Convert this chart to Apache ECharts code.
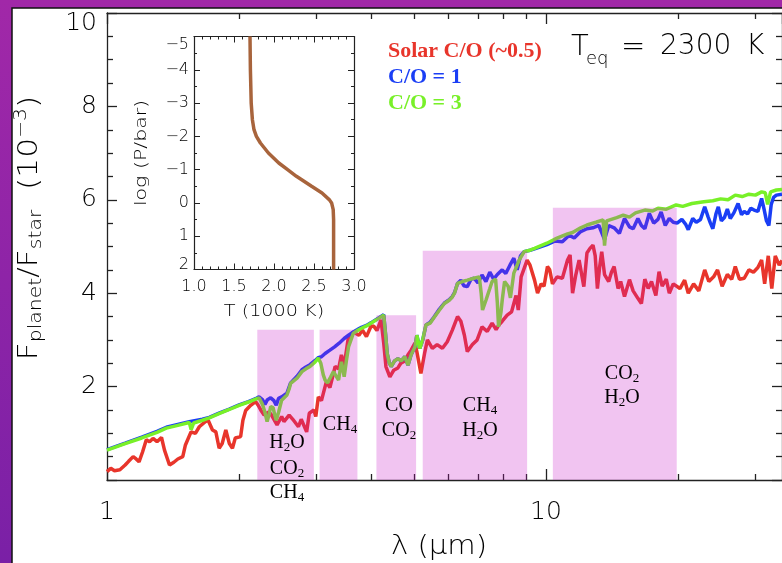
<!DOCTYPE html>
<html><head><meta charset="utf-8">
<script src="https://cdn.jsdelivr.net/npm/echarts@6/dist/echarts.min.js"></script>
<style>html,body{margin:0;padding:0;background:#fff}#c{width:782px;height:563px}</style>
</head><body><div id="c"></div>
<script>
// ---------- data ----------
const solarCO = [[1.00,0.18],[1.02,0.25],[1.04,0.20],[1.07,0.22],[1.10,0.32],[1.12,0.40],[1.147,0.50],[1.165,0.45],[1.183,0.39],[1.205,0.60],[1.229,0.86],[1.25,0.82],[1.273,0.89],[1.30,0.82],[1.331,0.91],[1.352,0.64],[1.388,0.32],[1.42,0.38],[1.45,0.45],[1.488,0.50],[1.509,0.75],[1.554,1.03],[1.59,1.00],[1.623,1.14],[1.675,1.25],[1.70,1.28],[1.739,1.07],[1.77,1.03],[1.801,0.68],[1.83,0.78],[1.865,1.07],[1.90,0.78],[1.931,0.68],[1.96,0.90],[2.016,0.93],[2.04,1.28],[2.07,1.49],[2.125,1.60],[2.18,1.68],[2.21,1.60],[2.24,1.50],[2.28,1.39],[2.33,1.45],[2.36,1.42],[2.44,1.18],[2.50,1.36],[2.53,1.25],[2.60,1.39],[2.65,1.30],[2.73,1.14],[2.77,1.30],[2.85,1.03],[2.89,1.43],[2.96,1.50],[2.99,1.36],[3.03,1.78],[3.08,1.70],[3.16,2.10],[3.22,1.98],[3.31,2.43],[3.37,2.38],[3.42,2.68],[3.47,2.45],[3.55,3.07],[3.64,3.17],[3.75,3.10],[3.82,3.21],[3.90,3.07],[3.99,3.28],[4.05,3.30],[4.12,3.20],[4.21,3.43],[4.27,2.93],[4.32,2.43],[4.41,2.21],[4.50,2.35],[4.60,2.40],[4.67,2.50],[4.77,2.55],[4.85,2.68],[4.93,2.78],[5.03,2.93],[5.08,2.75],[5.19,2.28],[5.29,2.71],[5.37,3.00],[5.51,2.82],[5.65,2.90],[5.81,2.82],[5.96,2.96],[6.12,3.21],[6.29,3.50],[6.40,3.40],[6.52,3.10],[6.62,2.75],[6.80,2.90],[6.97,3.00],[7.15,3.28],[7.35,3.18],[7.54,3.36],[7.70,3.22],[7.81,3.32],[7.95,3.40],[8.16,3.53],[8.35,3.60],[8.45,3.78],[8.55,3.95],[8.65,3.64],[8.78,4.35],[9.06,4.71],[9.20,4.60],[9.42,4.28],[9.57,4.00],[9.75,4.20],[9.90,4.15],[10.08,4.57],[10.20,4.50],[10.35,4.20],[10.60,4.35],[10.90,4.32],[11.20,4.71],[11.35,4.82],[11.50,4.00],[11.70,4.40],[11.90,4.71],[12.20,4.14],[12.40,4.86],[12.60,4.96],[12.80,5.03],[12.95,4.80],[13.10,4.10],[13.25,4.55],[13.40,4.89],[13.60,4.40],[13.90,4.25],[14.10,4.45],[14.30,4.57],[14.60,4.10],[14.80,4.25],[15.10,3.93],[15.50,4.29],[15.80,4.05],[16.20,3.89],[16.50,3.78],[16.80,4.30],[17.10,4.10],[17.40,4.25],[17.80,3.95],[18.10,4.46],[18.40,4.15],[18.80,4.30],[19.10,4.00],[19.50,4.20],[20.20,4.10],[20.70,4.28],[21.10,4.00],[21.70,4.20],[22.30,4.05],[23.00,4.50],[23.50,4.25],[24.10,4.35],[24.60,4.50],[25.20,4.15],[25.90,4.40],[26.50,4.30],[27.00,4.57],[27.60,4.30],[28.30,4.32],[29.00,4.50],[29.70,4.45],[30.40,4.55],[31.00,4.71],[31.50,4.20],[32.10,4.80],[32.70,4.10],[33.30,4.80],[34.00,4.60],[34.50,4.70]];

const co1 = [[1.00,0.65],[1.10,0.79],[1.20,0.92],[1.30,1.04],[1.365,1.13],[1.45,1.19],[1.54,1.25],[1.65,1.30],[1.71,1.34],[1.80,1.43],[1.90,1.52],[2.00,1.61],[2.10,1.68],[2.18,1.74],[2.22,1.78],[2.26,1.72],[2.29,1.62],[2.32,1.72],[2.36,1.76],[2.40,1.70],[2.43,1.60],[2.46,1.75],[2.50,1.78],[2.57,1.86],[2.62,2.08],[2.71,2.22],[2.78,2.36],[2.84,2.42],[2.90,2.47],[2.98,2.56],[3.03,2.62],[3.08,2.64],[3.14,2.71],[3.22,2.78],[3.30,2.85],[3.38,2.93],[3.47,3.03],[3.55,3.10],[3.64,3.17],[3.72,3.22],[3.80,3.27],[3.90,3.31],[4.00,3.37],[4.14,3.46],[4.27,3.54],[4.31,3.14],[4.35,2.70],[4.40,2.50],[4.44,2.43],[4.52,2.55],[4.60,2.60],[4.68,2.55],[4.77,2.64],[4.85,2.46],[4.93,2.68],[5.03,2.85],[5.08,3.10],[5.11,3.12],[5.16,2.82],[5.24,3.00],[5.33,3.32],[5.45,3.38],[5.55,3.48],[5.60,3.52],[5.72,3.66],[5.87,3.79],[6.02,3.86],[6.12,3.93],[6.19,4.01],[6.29,4.21],[6.40,4.28],[6.50,4.16],[6.62,4.14],[6.75,4.30],[6.86,4.32],[7.00,4.22],[7.15,4.39],[7.30,4.25],[7.45,4.45],[7.60,4.30],[7.75,4.40],[7.95,4.50],[8.10,4.42],[8.28,4.60],[8.45,4.75],[8.60,4.50],[8.75,4.80],[8.92,4.89],[9.20,4.92],[9.42,4.95],[10.05,5.04],[10.5,5.12],[10.9,5.10],[11.3,5.24],[11.6,5.18],[12.0,5.32],[12.4,5.38],[12.8,5.40],[13.2,5.45],[13.6,5.15],[13.9,5.45],[14.3,5.40],[14.7,5.28],[15.1,5.60],[15.5,5.42],[15.8,5.38],[16.2,5.60],[16.5,5.45],[16.8,5.38],[17.2,5.71],[17.6,5.50],[18.0,5.58],[18.3,5.74],[18.7,5.45],[19.1,5.60],[19.5,5.52],[19.9,5.50],[20.4,5.58],[20.8,5.48],[21.1,5.36],[21.6,5.60],[22.0,5.52],[22.5,5.58],[23.0,5.85],[23.4,5.64],[23.7,5.50],[24.0,5.38],[24.4,5.70],[24.7,5.85],[25.1,5.55],[25.5,5.62],[25.9,5.80],[26.3,5.60],[26.8,5.72],[27.4,5.92],[27.9,5.68],[28.3,5.75],[28.8,5.70],[29.3,5.82],[29.8,5.78],[30.4,5.75],[31.0,6.03],[31.4,5.80],[31.8,5.55],[32.2,5.45],[32.6,5.90],[33.0,6.05],[33.5,6.10],[34.5,6.12]];

const co3 = [[1.00,0.64],[1.10,0.78],[1.20,0.90],[1.30,1.02],[1.365,1.11],[1.45,1.17],[1.54,1.23],[1.555,1.08],[1.575,1.22],[1.65,1.28],[1.71,1.33],[1.80,1.42],[1.90,1.51],[2.00,1.60],[2.10,1.67],[2.18,1.73],[2.22,1.76],[2.26,1.62],[2.29,1.45],[2.316,1.25],[2.34,1.40],[2.36,1.57],[2.39,1.55],[2.41,1.40],[2.43,1.28],[2.46,1.45],[2.50,1.71],[2.57,1.82],[2.60,1.95],[2.62,2.07],[2.71,2.18],[2.78,2.32],[2.84,2.38],[2.90,2.43],[2.98,2.53],[3.03,2.61],[3.07,2.50],[3.11,2.25],[3.14,2.14],[3.18,2.08],[3.23,2.20],[3.28,2.32],[3.33,2.22],[3.37,2.14],[3.42,2.53],[3.45,2.35],[3.47,2.21],[3.51,2.55],[3.55,2.85],[3.64,3.14],[3.72,3.20],[3.80,3.25],[3.90,3.30],[4.00,3.36],[4.14,3.45],[4.27,3.53],[4.31,3.14],[4.35,2.70],[4.40,2.50],[4.44,2.43],[4.52,2.55],[4.60,2.60],[4.68,2.55],[4.77,2.64],[4.85,2.46],[4.93,2.68],[5.03,2.85],[5.08,3.10],[5.11,3.12],[5.16,2.82],[5.24,3.00],[5.33,3.32],[5.45,3.36],[5.55,3.47],[5.60,3.50],[5.72,3.64],[5.87,3.78],[6.02,3.85],[6.12,3.92],[6.19,4.00],[6.29,4.21],[6.45,4.25],[6.62,4.28],[6.85,4.32],[7.05,4.35],[7.12,4.00],[7.17,3.64],[7.30,3.85],[7.45,4.10],[7.54,4.25],[7.68,4.30],[7.75,3.80],[7.80,3.28],[7.90,3.60],[7.95,3.85],[8.05,4.25],[8.20,4.15],[8.30,3.90],[8.45,4.43],[8.69,4.71],[8.92,4.89],[9.20,4.92],[9.42,4.96],[10.05,5.07],[10.6,5.18],[11.2,5.27],[11.5,5.30],[12.0,5.40],[12.4,5.46],[13.0,5.52],[13.5,5.57],[13.6,5.02],[13.75,5.55],[14.5,5.62],[15.0,5.67],[15.5,5.63],[16.0,5.72],[16.8,5.78],[17.5,5.76],[18.0,5.82],[18.8,5.80],[19.8,5.89],[20.5,5.86],[21.5,5.92],[22.9,5.96],[24.0,5.98],[25.0,6.02],[26.0,6.00],[27.0,6.10],[28.0,6.07],[29.0,6.12],[30.0,6.10],[31.0,6.17],[31.6,6.15],[32.0,5.90],[32.5,6.17],[33.5,6.21],[34.5,6.22]];

// shaded absorption windows: [lambda start, lambda end, top of box]
const bandStart = [2.20, 3.05, 4.11, 5.24, 10.37];
const bandEnd   = [2.96, 3.72, 5.06, 9.06, 19.86];
const bandTop   = [3.22, 3.22, 3.53, 4.91, 5.83];

// inset T-P profile
const tpLogP = [-5,-4,-3,-2.5,-2.2,-2,-1.8,-1.5,-1.2,-1,-0.8,-0.5,-0.3,-0.1,0,0.2,0.5,1,2];
const tpT    = [1.70,1.705,1.715,1.73,1.75,1.78,1.83,1.93,2.06,2.17,2.28,2.47,2.60,2.69,2.72,2.74,2.745,2.745,2.745];

const xMajor = [1, 10];
const xMinor = [2,3,4,5,6,7,8,9,20,30];
const names = ['Solar C/O (~0.5)', 'C/O = 1', 'C/O = 3'];

// ---------- style ----------
const AX = '#222';
const TXT = '#000';
const SANS = 'DejaVu Sans, Liberation Sans, sans-serif';
const FW = 300;
const SERIF = 'Liberation Serif, Times New Roman, serif';
const XMAX = 34.5;
const COL = ['#e8352b', '#1a3ef5', '#78f028'];

const chart = echarts.init(document.getElementById('c'));
const mainW = 442 * Math.log10(XMAX);

function xAx(pos, type, extra) {
  const base = {
    gridIndex:0, position:pos, type:type,
    min: type==='log' ? 1 : 0, max: type==='log' ? XMAX : Math.log10(XMAX),
    axisLine: type==='log' ? {show:true, onZero:false, lineStyle:{color:AX,width:1.3}} : {show:false, onZero:false},
    splitLine:{show:false},
    axisLabel:{show:false},
  };
  return Object.assign(base, extra);
}

const tpData = tpLogP.map((p,i)=>[tpT[i], p]);
const sub = (s)=>s.replace(/([A-Z])(\d)/g, '$1{s|$2}').replace(/(^|\})([A-Za-z]+)(?=\{|$)/g, '$1{n|$2}');

const bandLabels = [
  [287, 443, 'H2O'], [287, 469, 'CO2'], [287, 493, 'CH4'],
  [340, 425, 'CH4'],
  [399, 406, 'CO'], [399, 431, 'CO2'],
  [480, 406, 'CH4'], [480, 431, 'H2O'],
  [622, 374, 'CO2'], [622, 398, 'H2O']
];
const labRich = {n:{fontSize:20, fontFamily:SERIF, color:'#111'}, s:{fontSize:13, fontFamily:SERIF, color:'#111', padding:[10,0,0,0]}};

function txt(x, y, text, size, extra) {
  return Object.assign({type:'text', z:50, x:x, y:y, style:{text:text, fontSize:size, fontFamily:SANS, fontWeight:FW, fill:TXT, align:'center', verticalAlign:'middle'}}, extra||{});
}
function ltxt(x, y, text, size) {
  return {type:'text', z:50, x:x, y:y, style:{text:text, fontSize:size, fontFamily:SANS, fontWeight:FW, fill:TXT, align:'left', verticalAlign:'middle'}};
}

const graphics = [
  {type:'rect', z:-10, shape:{x:12, y:8, width:800, height:600}, style:{fill:'#fff', stroke:'#111', lineWidth:1.5}},
  {type:'text', z:50, x:30, y:228, rotation:Math.PI/2, scaleX:1.2, style:{
    text:'{m|F}{s|planet}{m|/F}{s|star}{m|  (10}{p|−3}{m|)}', align:'center', verticalAlign:'middle',
    rich:{m:{fontSize:26, fontFamily:SANS, fontWeight:FW, color:TXT}, s:{fontSize:17, fontFamily:SANS, fontWeight:FW, color:TXT, padding:[14,0,0,0]}, p:{fontSize:17, fontFamily:SANS, fontWeight:FW, color:TXT, padding:[0,0,16,0]}}}},
  txt(439, 547, 'λ (μm)', 26, {scaleX:1.12}),
  txt(274, 312, 'T (1000 K)', 16, {scaleX:1.2}),
  txt(142, 153, 'log (P/bar)', 16, {rotation:Math.PI/2, scaleX:1.28}),
  ltxt(571, 47, 'T', 29),
  ltxt(586, 59, 'eq', 18),
  ltxt(621, 47, '=', 29),
  ltxt(660, 47, '2300', 28),
  ltxt(746, 47, 'K', 28),
];
bandLabels.forEach(b=>graphics.push({type:'text', z:60, x:b[0], y:b[1], style:{text:sub(b[2]), rich:labRich, align:'center', verticalAlign:'middle'}}));

const lab = (size, extra) => Object.assign({fontSize:size, fontFamily:SANS, fontWeight:FW, color:TXT}, extra||{});

const option = {
  animation:false,
  backgroundColor: new echarts.graphic.LinearGradient(0,0,0,1,[{offset:0,color:'#a128a8'},{offset:1,color:'#7a20a6'}]),
  legend:{orient:'vertical', left:378, top:35, icon:'none', itemWidth:0, itemHeight:0, itemGap:4, selectedMode:false,
    textStyle:{fontFamily:SERIF, fontWeight:'bold', fontSize:22},
    data: names.map((n,i)=>({name:n, textStyle:{color:COL[i]}}))},
  grid:[
    {left:107, top:13, width:mainW, height:467},
    {left:194, top:36.5, width:160, height:233}
  ],
  xAxis:[
    xAx('bottom','log',{axisTick:{show:true, inside:true, length:11, lineStyle:{color:AX,width:1.3}},
      axisLabel:lab(25, {show:true, margin:20, showMaxLabel:false,
        formatter:v=>xMajor.some(m=>Math.abs(m-v)<1e-6)? String(Math.round(v)) : ''})}),
    xAx('bottom','value',{axisTick:{show:true, inside:true, length:6, customValues:xMinor.map(Math.log10), lineStyle:{color:AX,width:1.3}}}),
    xAx('top','log',{axisTick:{show:true, inside:true, length:11, lineStyle:{color:AX,width:1.3}}}),
    xAx('top','value',{axisTick:{show:true, inside:true, length:6, customValues:xMinor.map(Math.log10), lineStyle:{color:AX,width:1.3}}}),
    {gridIndex:1, type:'value', position:'bottom', min:1, max:3, interval:0.5,
      axisLine:{onZero:false, lineStyle:{color:AX,width:1.2}}, splitLine:{show:false},
      axisTick:{inside:true, length:6, lineStyle:{color:AX}}, minorTick:{show:true, splitNumber:5, length:3, lineStyle:{color:AX}},
      axisLabel:lab(16, {margin:9, formatter:v=>v.toFixed(1)})},
    {gridIndex:1, type:'value', position:'top', min:1, max:3, interval:0.5,
      axisLine:{onZero:false, lineStyle:{color:AX,width:1.2}}, splitLine:{show:false}, axisLabel:{show:false},
      axisTick:{inside:true, length:6, lineStyle:{color:AX}}, minorTick:{show:true, splitNumber:5, length:3, lineStyle:{color:AX}}}
  ],
  yAxis:[
    {gridIndex:0, type:'value', position:'left', min:0, max:10, interval:2,
      axisLine:{show:true, onZero:false, lineStyle:{color:AX,width:1.3}}, splitLine:{show:false},
      axisTick:{inside:true, length:10, lineStyle:{color:AX,width:1.3}}, minorTick:{show:true, splitNumber:4, length:6, lineStyle:{color:AX,width:1.3}},
      axisLabel:lab(25, {margin:10,
        formatter:v=> v===0 ? '' : (v===10 ? '{t|10}' : String(v)), rich:{t:lab(25,{padding:[20,0,0,0]})}})},
    {gridIndex:0, type:'value', position:'right', min:0, max:10, interval:2,
      axisLine:{show:true, onZero:false, lineStyle:{color:AX,width:1.3}}, splitLine:{show:false}, axisLabel:{show:false},
      axisTick:{inside:true, length:10, lineStyle:{color:AX,width:1.3}}, minorTick:{show:true, splitNumber:4, length:6, lineStyle:{color:AX,width:1.3}}},
    {gridIndex:1, type:'value', position:'left', min:-5, max:2, interval:1, inverse:true,
      axisLine:{onZero:false, lineStyle:{color:AX,width:1.2}}, splitLine:{show:false},
      axisTick:{inside:true, length:6, lineStyle:{color:AX}}, minorTick:{show:true, splitNumber:2, length:3, lineStyle:{color:AX}},
      axisLabel:lab(16, {margin:5,
        formatter:v=>{const s=String(v).replace('-','−'); return v===-5?'{a|'+s+'}':(v===2?'{b|'+s+'}':s);},
        rich:{a:lab(16,{padding:[16,0,0,0]}), b:lab(16,{padding:[0,0,10,0]})}})},
    {gridIndex:1, type:'value', position:'right', min:-5, max:2, interval:1, inverse:true,
      axisLine:{onZero:false, lineStyle:{color:AX,width:1.2}}, splitLine:{show:false}, axisLabel:{show:false},
      axisTick:{inside:true, length:6, lineStyle:{color:AX}}, minorTick:{show:true, splitNumber:2, length:3, lineStyle:{color:AX}}}
  ],
  series:[
    {type:'line', name:names[0], xAxisIndex:0, yAxisIndex:0, data:solarCO, showSymbol:false, symbol:'none', z:2,
      lineStyle:{color:COL[0], width:3.5}, itemStyle:{color:COL[0]}},
    {type:'line', name:names[1], xAxisIndex:0, yAxisIndex:0, data:co1, showSymbol:false, symbol:'none', z:3,
      lineStyle:{color:COL[1], width:3.5}, itemStyle:{color:COL[1]}},
    {type:'line', name:names[2], xAxisIndex:0, yAxisIndex:0, data:co3, showSymbol:false, symbol:'none', z:4,
      lineStyle:{color:COL[2], width:3.5}, itemStyle:{color:COL[2]},
      markArea:{silent:true, z:8, itemStyle:{color:'rgba(198,20,198,0.25)', borderWidth:0},
        data: bandStart.map((s,i)=>[{xAxis:s, yAxis:0}, {xAxis:bandEnd[i], yAxis:bandTop[i]}])}},
    {type:'line', xAxisIndex:4, yAxisIndex:2, data:tpData, showSymbol:false, symbol:'none', z:5,
      lineStyle:{color:'#a8643c', width:3.5}, itemStyle:{color:'#a8643c'}}
  ],
  graphic: graphics
};
chart.setOption(option);
</script></body></html>
